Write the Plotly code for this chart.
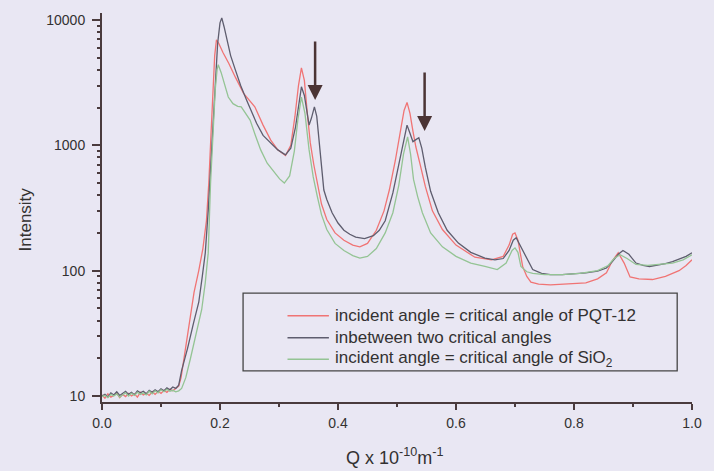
import plotly.graph_objects as go

# --- data ---
q_low = [0.000, 0.005, 0.010, 0.015, 0.020, 0.025, 0.030, 0.035, 0.040, 0.045,
         0.050, 0.055, 0.060, 0.065, 0.070, 0.075, 0.080, 0.085, 0.090, 0.095,
         0.100, 0.105, 0.110, 0.115, 0.120, 0.125, 0.130]

red_low = [10.2, 9.6, 10.4, 9.8, 10.1, 10.6, 9.7, 10.3, 9.9, 10.5, 10.0, 10.4, 9.8, 10.7,
           10.2, 10.5, 10.1, 10.8, 10.3, 10.9, 10.5, 11.1, 10.7, 11.3, 11.0, 11.6, 12.0]
gray_low = [10.0, 10.3, 9.8, 10.6, 10.2, 10.8, 10.1, 10.5, 10.9, 10.3, 10.7, 10.2, 11.0, 10.6,
            10.9, 10.4, 11.1, 10.7, 11.2, 10.8, 11.4, 11.0, 11.6, 11.2, 11.8, 11.5, 12.2]
green_low = [9.9, 10.1, 9.7, 10.3, 10.0, 10.4, 9.8, 10.2, 10.6, 10.0, 10.5, 10.1, 10.7, 10.3,
             10.6, 10.2, 10.9, 10.4, 11.0, 10.6, 11.2, 10.8, 11.3, 10.9, 11.1, 10.8, 11.0]

q_red = [0.134, 0.140, 0.148, 0.156, 0.164, 0.171, 0.177, 0.181, 0.185, 0.188, 0.191, 0.194,
         0.198, 0.205, 0.215, 0.226, 0.240, 0.259, 0.273, 0.286, 0.298, 0.311, 0.320, 0.327,
         0.333, 0.338, 0.343, 0.348, 0.353, 0.359, 0.365, 0.372, 0.381, 0.395, 0.410, 0.425,
         0.437, 0.450, 0.465, 0.478, 0.487, 0.497, 0.507, 0.512, 0.517, 0.522, 0.527, 0.532,
         0.540, 0.548, 0.560, 0.577, 0.600, 0.632, 0.660, 0.680, 0.690, 0.696, 0.700, 0.705,
         0.713, 0.720, 0.727, 0.740, 0.760, 0.780, 0.800, 0.820, 0.840, 0.855, 0.865, 0.875,
         0.885, 0.895, 0.910, 0.933, 0.955, 0.978, 0.990, 1.000]
i_red = [14, 22, 38, 67, 100, 150, 250, 500, 1300, 3000, 5200, 6940,
         6500, 5500, 4500, 3500, 2600, 2030, 1450, 1100, 920, 830, 1000, 1700,
         3000, 4150, 3300, 1800, 1050, 700, 500, 340, 256, 200, 175, 160,
         155, 165, 210, 300, 440, 750, 1400, 1900, 2200, 1800, 1300, 970,
         680, 470, 300, 213, 160, 128, 122, 130, 160, 195, 200, 175,
         108, 90, 81, 78, 77, 78, 78, 80, 86, 96, 120, 139,
         115, 89, 86, 85, 90, 100, 110, 122]

q_gray = [0.135, 0.145, 0.155, 0.164, 0.170, 0.175, 0.180, 0.184, 0.188, 0.192, 0.196, 0.200,
          0.203, 0.207, 0.212, 0.218, 0.226, 0.235, 0.245, 0.253, 0.262, 0.273, 0.286, 0.298,
          0.311, 0.320, 0.328, 0.334, 0.338, 0.343, 0.348, 0.351, 0.355, 0.360, 0.364, 0.370,
          0.376, 0.381, 0.390, 0.400, 0.410, 0.420, 0.430, 0.445, 0.460, 0.470, 0.480, 0.493,
          0.503, 0.510, 0.517, 0.522, 0.527, 0.532, 0.537, 0.542, 0.548, 0.557, 0.570, 0.585,
          0.604, 0.625, 0.649, 0.666, 0.680, 0.690, 0.697, 0.702, 0.710, 0.720, 0.730, 0.745,
          0.760, 0.780, 0.800, 0.820, 0.840, 0.855, 0.865, 0.875, 0.883, 0.893, 0.905, 0.917,
          0.928, 0.940, 0.955, 0.967, 0.980, 0.990, 1.000]
i_gray = [16, 24, 38, 56, 90, 138, 300, 630, 1500, 3500, 6500, 9500,
          10400, 8800, 6800, 5200, 4000, 3000, 2300, 1900, 1500, 1200, 1050, 920,
          840, 950, 1400, 2300, 2930, 2500, 1700, 1450, 1650, 2030, 1700, 900,
          440, 370, 290, 240, 210, 195, 185, 180, 190, 210, 250, 417,
          700, 1050, 1450, 1250, 1070, 1110, 1150, 950, 670, 430, 290, 210,
          166, 140, 126, 122, 125, 145, 175, 183, 155, 125, 102, 95,
          93, 93, 94, 96, 99, 105, 118, 135, 145, 135, 115, 110,
          108, 110, 114, 118, 124, 130, 139]

q_green = [0.135, 0.142, 0.150, 0.160, 0.169, 0.175, 0.180, 0.184, 0.188, 0.192, 0.195, 0.197,
           0.202, 0.208, 0.214, 0.222, 0.230, 0.236, 0.244, 0.251, 0.260, 0.269, 0.280, 0.293,
           0.301, 0.309, 0.318, 0.326, 0.332, 0.338, 0.344, 0.351, 0.358, 0.365, 0.372, 0.381,
           0.395, 0.410, 0.425, 0.437, 0.450, 0.465, 0.480, 0.493, 0.503, 0.511, 0.518, 0.523,
           0.528, 0.535, 0.543, 0.557, 0.577, 0.600, 0.625, 0.649, 0.670, 0.685, 0.695, 0.700,
           0.705, 0.710, 0.720, 0.730, 0.750, 0.780, 0.810, 0.840, 0.858, 0.868, 0.878, 0.890,
           0.905, 0.925, 0.945, 0.967, 0.985, 1.000]
i_green = [11.5, 14, 20, 32, 49, 80, 138, 500, 1200, 2800, 4000, 4400,
           3800, 3000, 2430, 2150, 2050, 2030, 1800, 1590, 1200, 920, 720, 606,
           540, 500, 570, 900, 1600, 2430, 1800, 920, 560, 390, 280, 213,
           165, 145, 132, 126, 130, 150, 200, 290, 480, 850, 1170, 850,
           535, 390, 290, 200, 155, 130, 115, 108, 102, 115, 145, 152,
           140, 108, 98, 95, 93, 93, 95, 100, 110, 125, 134, 125,
           112, 110, 112, 115, 122, 134]

labels = ["incident angle = critical angle of PQT-12",
          "inbetween two critical angles",
          "incident angle = critical angle of SiO<sub>2</sub>"]
colors = ["#f07474", "#5e5d6e", "#94c494"]

y_ticks = [10, 100, 1000, 10000]
x_ticks = [0.0, 0.2, 0.4, 0.6, 0.8, 1.0]

BG = "#e9e7f3"
AXIS = "#4a3b3d"
TEXT = "#333131"
FONT = "Liberation Sans, Arial, sans-serif"

fig = go.Figure()
for q, i, lo, c, name in [(q_red, i_red, red_low, colors[0], labels[0]),
                          (q_gray, i_gray, gray_low, colors[1], labels[1]),
                          (q_green, i_green, green_low, colors[2], labels[2])]:
    fig.add_trace(go.Scatter(x=q_low + q, y=lo + i, mode="lines", name=name,
                             line=dict(color=c, width=1.3), showlegend=False))

# hand drawn legend box, like the original
lx0, lx1 = 0.2391, 0.9749
ly0, ly1 = 0.080, 0.280
rows = [0.222, 0.165, 0.110]
fig.add_shape(type="rect", xref="paper", yref="paper", x0=lx0, x1=lx1, y0=ly0, y1=ly1,
              line=dict(color="#454545", width=1.3), fillcolor=BG, layer="above")
for k in range(3):
    fig.add_shape(type="line", xref="paper", yref="paper", x0=0.3144, x1=0.3846,
                  y0=rows[k], y1=rows[k], line=dict(color=colors[k], width=1.5), layer="above")
    fig.add_annotation(xref="paper", yref="paper", x=0.392, y=rows[k], text=labels[k],
                       showarrow=False, xanchor="left", yanchor="middle",
                       font=dict(size=17, color=TEXT, family=FONT))

# the two arrows marking the extra peaks (y in log10 units)
for ax_x, ax_y in [(0.3612, 3.362), (0.5468, 3.114)]:
    fig.add_annotation(x=ax_x, y=ax_y, xref="x", yref="y", text="", showarrow=True,
                       ax=0, ay=-60, arrowhead=2, arrowsize=1.2, arrowwidth=2.5,
                       arrowcolor="#4b3434")

fig.add_annotation(xref="paper", yref="paper", x=-0.13, y=0.47, text="Intensity",
                   textangle=-90, showarrow=False, xanchor="center", yanchor="middle",
                   font=dict(size=17, color=TEXT, family=FONT))
fig.add_annotation(xref="paper", yref="paper", x=0.495, y=-0.141,
                   text="Q x 10<sup>-10</sup>m<sup>-1</sup>", showarrow=False,
                   xanchor="center", yanchor="middle",
                   font=dict(size=18, color=TEXT, family=FONT))

fig.update_xaxes(range=[0, 1.0], tickvals=x_ticks, ticktext=[f"{v:.1f}" for v in x_ticks],
                 showline=True, linecolor=AXIS, linewidth=2, ticks="outside", ticklen=6,
                 tickwidth=2, tickcolor=AXIS, showgrid=False, zeroline=False,
                 tickfont=dict(size=14, color=TEXT, family=FONT), ticklabelstandoff=1,
                 minor=dict(tickvals=[0.1, 0.3, 0.5, 0.7, 0.9], ticks="outside", ticklen=3,
                            tickwidth=2, tickcolor=AXIS, showgrid=False))
fig.update_yaxes(type="log", range=[0.952, 4.056], tickvals=y_ticks,
                 ticktext=[str(v) for v in y_ticks],
                 showline=True, linecolor=AXIS, linewidth=2, ticks="outside", ticklen=8,
                 tickwidth=2, tickcolor=AXIS, showgrid=False, zeroline=False,
                 tickfont=dict(size=14, color=TEXT, family=FONT), ticklabelstandoff=4,
                 minor=dict(tickvals=[m * d for d in (10, 100, 1000) for m in range(2, 10)],
                            ticks="outside", ticklen=3, tickwidth=1.5, tickcolor=AXIS,
                            showgrid=False))

fig.update_layout(width=714, height=471, margin=dict(l=102, r=14, t=13, b=69),
                  paper_bgcolor=BG, plot_bgcolor=BG, showlegend=False,
                  font=dict(family=FONT, color=TEXT))

# the page body has a default 8px margin; drop it so the figure fills the window
fig.write_html("out.html", config={"displayModeBar": False},
               post_script="document.body.style.margin='0';document.body.style.background='%s';" % BG)
